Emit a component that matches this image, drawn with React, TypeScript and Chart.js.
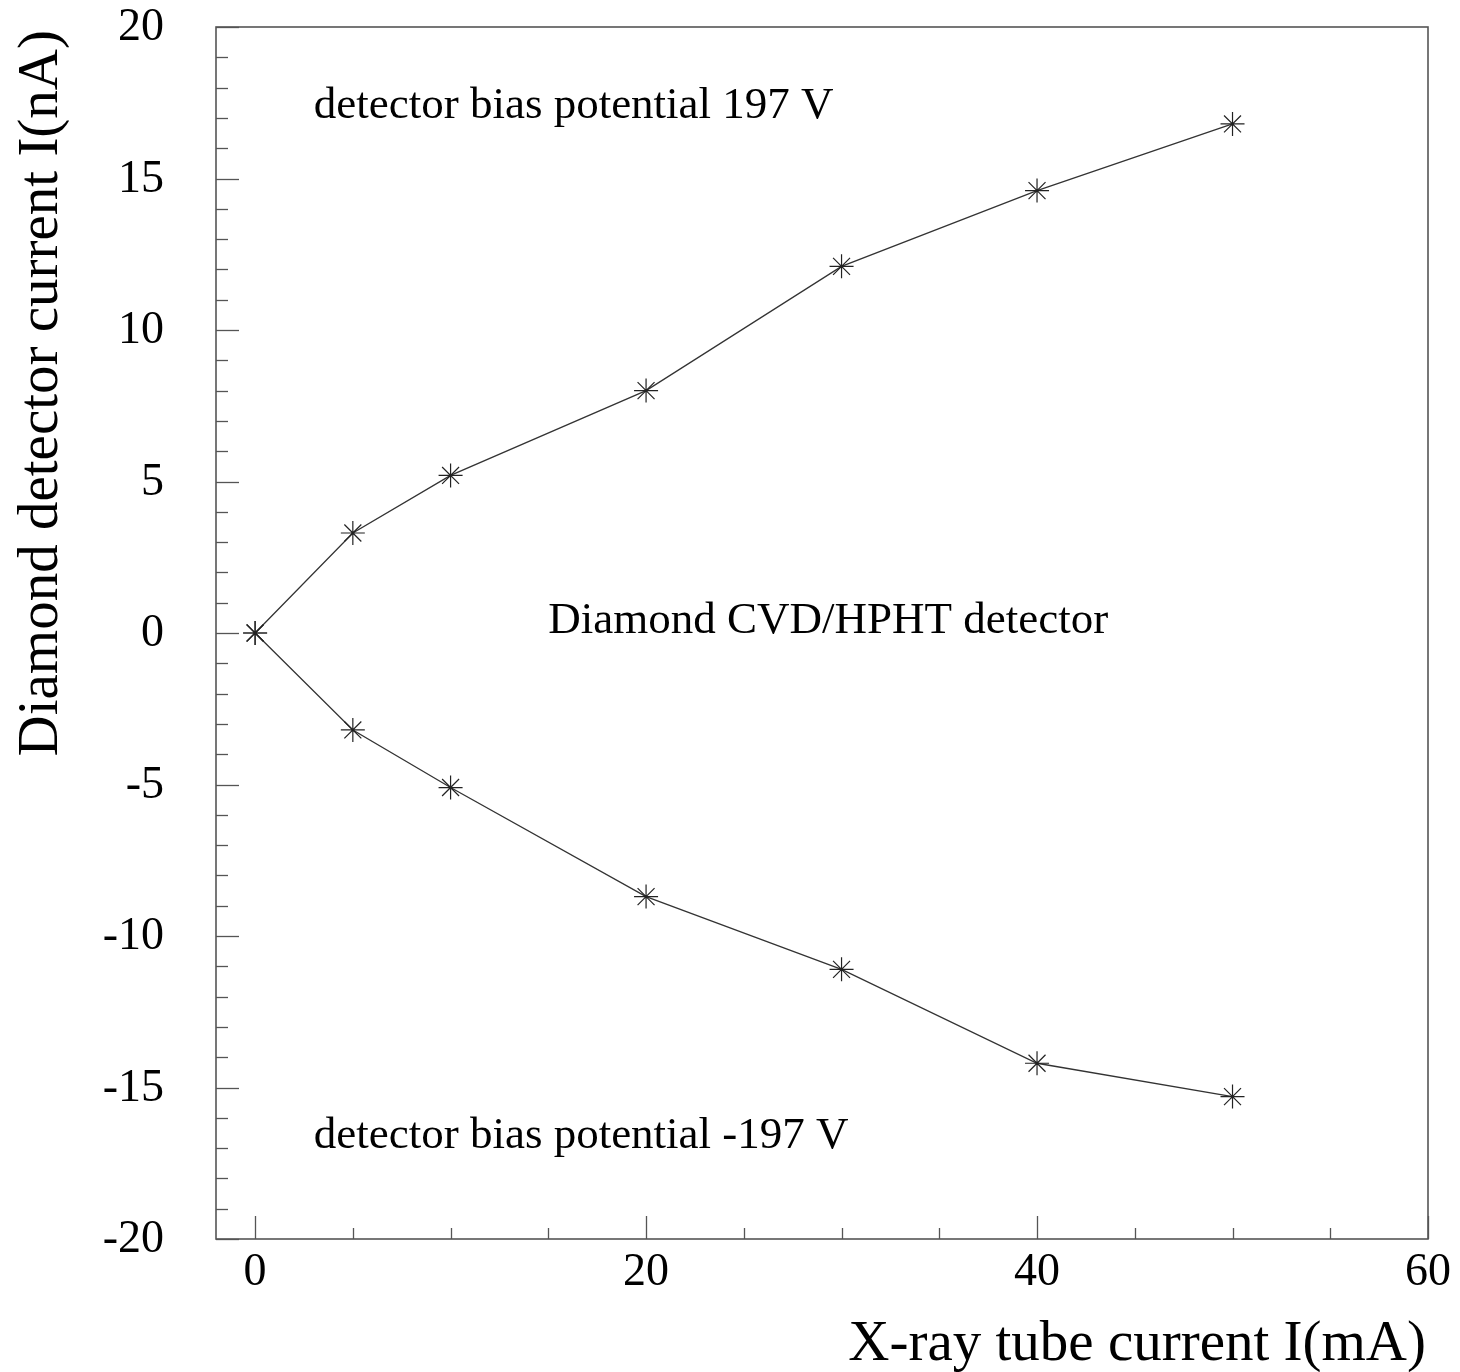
import React, { useEffect, useRef } from "react";
import { Chart, registerables } from "chart.js";

Chart.register(...registerables);

const xValues = [0, 5, 10, 20, 30, 40, 50];
const positiveBias = [0, 3.3, 5.2, 8.0, 12.1, 14.6, 16.8];
const negativeBias = [0, -3.2, -5.1, -8.7, -11.1, -14.2, -15.3];
const xTickLabels = [0, 20, 40, 60];
const yTickLabels = [20, 15, 10, 5, 0, -5, -10, -15, -20];
const xTitle = "X-ray tube current I(mA)";
const yTitle = "Diamond detector current I(nA)";
const annotations = [
  { text: "detector bias potential 197 V", x: 3, y: 17.4 },
  { text: "Diamond CVD/HPHT detector", x: 15, y: 0.38 },
  { text: "detector bias potential -197 V", x: 3, y: -16.6 },
];

const SERIF = '"Liberation Serif", "Times New Roman", serif';

const axesPlugin = {
  id: "rootAxes",
  afterDraw(chart: any) {
    const ctx = chart.ctx as CanvasRenderingContext2D;
    const { left, right, top, bottom } = chart.chartArea;
    const xs = chart.scales.x;
    const ys = chart.scales.y;
    ctx.save();
    ctx.strokeStyle = "#555";
    ctx.lineWidth = 1.6;
    ctx.strokeRect(left, top, right - left, bottom - top);

    // x ticks (inward)
    ctx.lineWidth = 1.3;
    for (let v = 0; v <= 60; v += 5) {
      const px = Math.round(xs.getPixelForValue(v)) + 0.5;
      const len = v % 20 === 0 ? 23 : 11;
      ctx.beginPath();
      ctx.moveTo(px, bottom);
      ctx.lineTo(px, bottom - len);
      ctx.stroke();
    }
    // y ticks
    for (let v = -20; v <= 20; v += 1) {
      const py = Math.round(ys.getPixelForValue(v)) + 0.5;
      const len = v % 5 === 0 ? 23 : 12;
      ctx.beginPath();
      ctx.moveTo(left, py);
      ctx.lineTo(left + len, py);
      ctx.stroke();
    }

    ctx.fillStyle = "#000";
    ctx.font = `46px ${SERIF}`;
    ctx.textAlign = "center";
    ctx.textBaseline = "alphabetic";
    for (const v of xTickLabels) {
      ctx.fillText(String(v), xs.getPixelForValue(v), bottom + 46);
    }
    ctx.textAlign = "right";
    ctx.textBaseline = "middle";
    for (const v of yTickLabels) {
      ctx.fillText(String(v), left - 52, ys.getPixelForValue(v) + 1);
    }

    ctx.font = `45px ${SERIF}`;
    ctx.textAlign = "left";
    ctx.textBaseline = "middle";
    for (const a of annotations) {
      ctx.fillText(a.text, xs.getPixelForValue(a.x), ys.getPixelForValue(a.y));
    }

    ctx.font = `57px ${SERIF}`;
    ctx.textAlign = "right";
    ctx.textBaseline = "alphabetic";
    ctx.fillText(xTitle, right - 2, bottom + 121);

    ctx.save();
    ctx.translate(57, top + 3);
    ctx.rotate(-Math.PI / 2);
    ctx.textAlign = "right";
    ctx.textBaseline = "alphabetic";
    ctx.fillText(yTitle, 0, 0);
    ctx.restore();

    ctx.restore();
  },
};

export default function App() {
  const ref = useRef<HTMLCanvasElement | null>(null);
  useEffect(() => {
    document.body.style.margin = "0";
    const canvas = ref.current;
    if (!canvas) return;
    const mk = (ys: number[]) => xValues.map((x, i) => ({ x, y: ys[i] }));
    const common = {
      borderColor: "#333",
      borderWidth: 1.3,
      pointStyle: "star" as const,
      pointRadius: 12,
      pointBorderColor: "#222",
      pointBorderWidth: 1.2,
      pointBackgroundColor: "#222",
      tension: 0,
      fill: false,
    };
    const chart = new Chart(canvas, {
      type: "line",
      data: {
        datasets: [
          { label: "197 V", data: mk(positiveBias), ...common },
          { label: "-197 V", data: mk(negativeBias), ...common },
        ],
      },
      options: {
        animation: false,
        responsive: false,
        devicePixelRatio: 1,
        layout: { padding: { left: 216, right: 32, top: 27, bottom: 133 } },
        plugins: { legend: { display: false }, tooltip: { enabled: false } },
        scales: {
          x: { type: "linear", min: -2, max: 60, display: false },
          y: { type: "linear", min: -20, max: 20, display: false },
        },
      },
      plugins: [axesPlugin],
    });
    return () => chart.destroy();
  }, []);
  return (
    <div style={{ width: 1460, height: 1372, background: "#fff" }}>
      <canvas ref={ref} width={1460} height={1372} style={{ display: "block" }} />
    </div>
  );
}
